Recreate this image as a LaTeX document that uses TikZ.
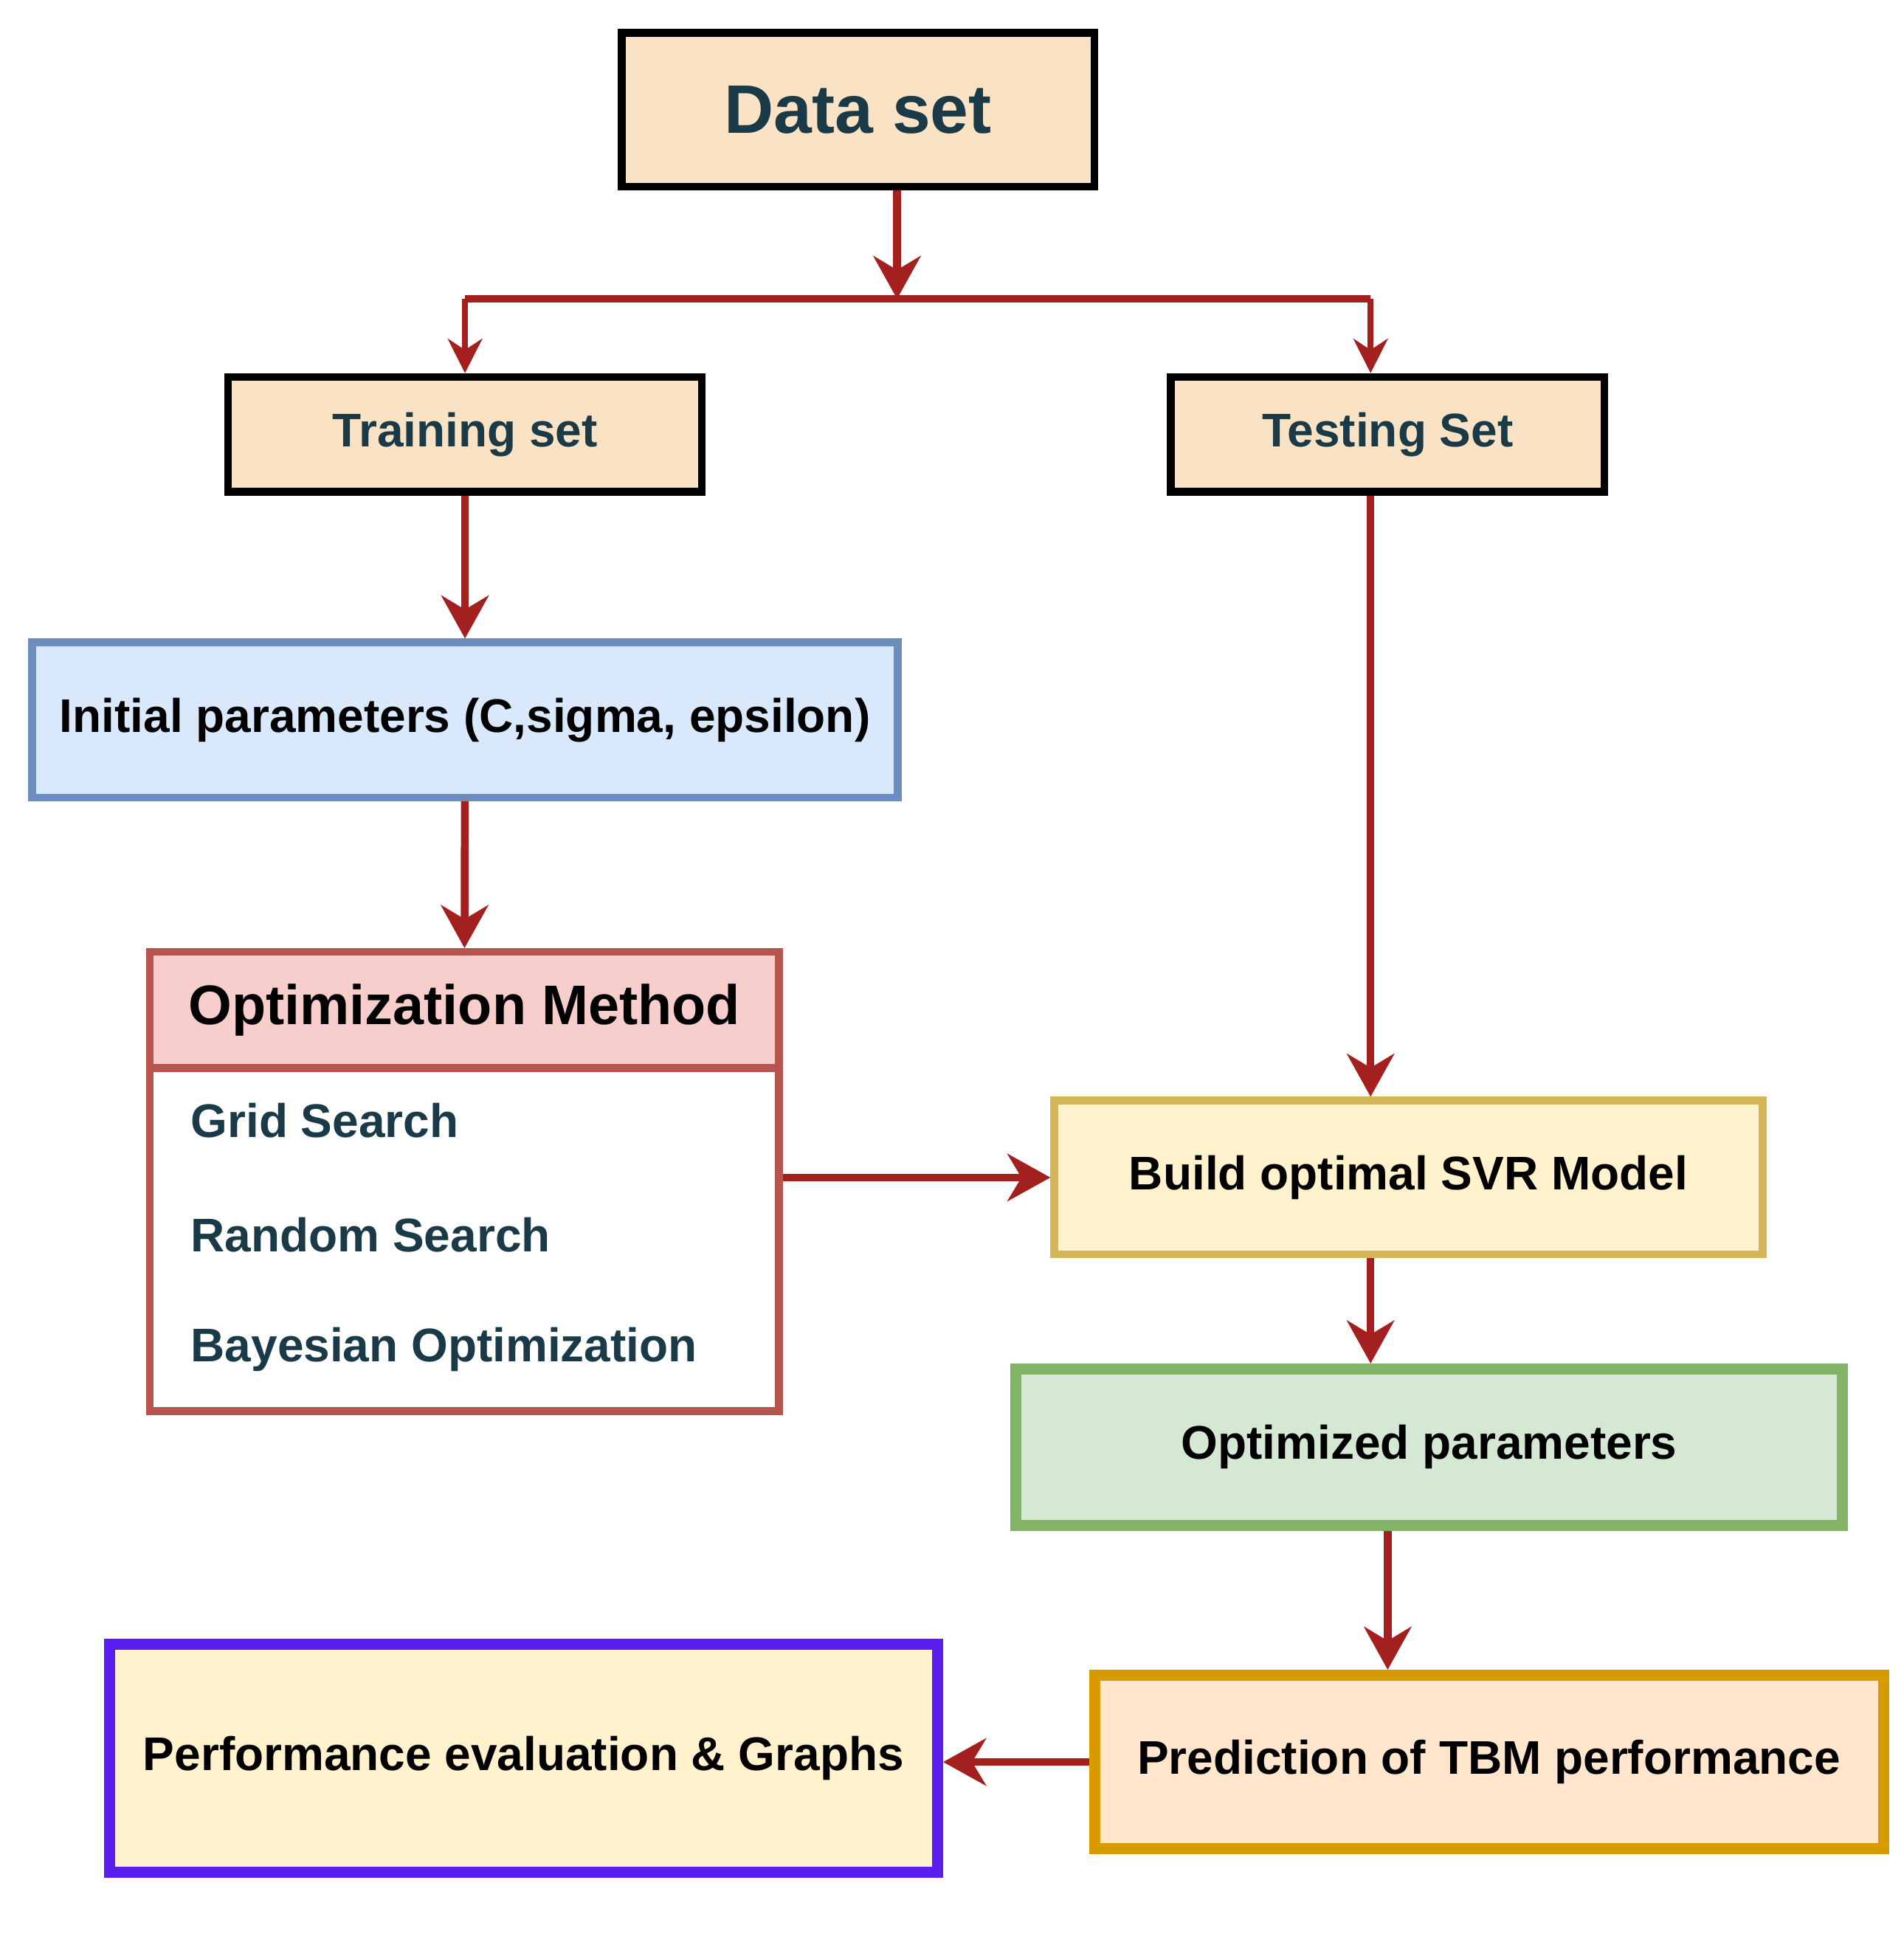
\documentclass[tikz,border=0pt]{standalone}
\usepackage{fontspec}
\setmainfont{Liberation Sans}
\usetikzlibrary{arrows.meta}
\definecolor{peach}{HTML}{FAE3C5}
\definecolor{ink}{HTML}{1B3A48}
\definecolor{arr}{HTML}{A3201F}
\definecolor{blueF}{HTML}{DAE8FC}\definecolor{blueD}{HTML}{6C8EBF}
\definecolor{redF}{HTML}{F8CECC}\definecolor{redD}{HTML}{B85450}
\definecolor{yelF}{HTML}{FFF2CC}\definecolor{yelD}{HTML}{D6B656}
\definecolor{grnF}{HTML}{D5E8D4}\definecolor{grnD}{HTML}{82B366}
\definecolor{orF}{HTML}{FFE6CC}\definecolor{orD}{HTML}{D79B00}
\definecolor{purD}{HTML}{5A1EF0}
\begin{document}
\begin{tikzpicture}[x=0.01cm,y=-0.01cm,
  box/.style={draw,line width=1.8pt,inner sep=0pt,font=\fontsize{11}{13}\selectfont\bfseries},
  arrow/.style={draw=arr,line width=1.8pt,-{Stealth[length=10pt,width=11pt]}},
  thin arrow/.style={draw=arr,line width=1.4pt,-{Stealth[length=8pt,width=8pt]}}]
  \useasboundingbox (0,0) rectangle (1560,1603);
  % top level
  \node[box,fill=peach,text=ink,minimum width=3.87cm,minimum height=1.26cm,font=\fontsize{16}{18}\selectfont\bfseries] (data) at (703,90) {Data set};
  \node[box,fill=peach,text=ink,minimum width=3.88cm,minimum height=0.94cm] (train) at (381,356) {Training set};
  \node[box,fill=peach,text=ink,minimum width=3.55cm,minimum height=0.94cm] (test) at (1137,356) {Testing Set};
  \coordinate (split) at (735,245);
  \coordinate (splitL) at (381,245);
  \coordinate (splitR) at (1123,245);
  % left branch
  \node[box,draw=blueD,fill=blueF,minimum width=7.09cm,minimum height=1.27cm] (init) at (381,590) {Initial parameters (C,sigma, epsilon)};
  \node[box,draw=redD,fill=white,minimum width=5.15cm,minimum height=3.76cm,anchor=north] (list) at (380.5,777) {};
  \node[box,draw=redD,fill=redF,minimum width=5.15cm,minimum height=0.95cm,anchor=north,font=\fontsize{13}{15}\selectfont\bfseries] (opt) at (380.5,777) {Optimization Method};
  \node[text=ink,font=\fontsize{11}{13}\selectfont\bfseries,anchor=west] (grid) at (144,918) {Grid Search};
  \node[text=ink,font=\fontsize{11}{13}\selectfont\bfseries,anchor=west] (rand) at (144,1012) {Random Search};
  \node[text=ink,font=\fontsize{11}{13}\selectfont\bfseries,anchor=west] (bayes) at (144,1106) {Bayesian Optimization};
  % right branch
  \node[box,draw=yelD,fill=yelF,minimum width=5.8cm,minimum height=1.26cm] (build) at (1154,965) {Build optimal SVR Model};
  \node[box,draw=grnD,fill=grnF,line width=2.6pt,minimum width=6.77cm,minimum height=1.28cm] (optpar) at (1171,1186) {Optimized parameters};
  \node[box,draw=orD,fill=orF,line width=2.6pt,minimum width=6.46cm,minimum height=1.42cm] (pred) at (1220,1444) {Prediction of TBM performance};
  \node[box,draw=purD,fill=yelF,line width=2.6pt,minimum width=6.78cm,minimum height=1.87cm] (perf) at (429,1441) {Performance evaluation \& Graphs};
  % connectors
  \draw[arrow] (data.south -| split) -- (split);
  \draw[draw=arr,line width=1.8pt] (splitL) -- (splitR);
  \draw[thin arrow] (splitL) -- (train.north -| splitL);
  \draw[thin arrow] (splitR) -- (test.north -| splitR);
  \draw[arrow] (train) -- (init);
  \draw[arrow] (init) -- (opt);
  \draw[arrow] (test.south -| splitR) -- (build.north -| splitR);
  \draw[arrow] (list.east |- build) -- (build.west);
  \draw[arrow] (build.south -| splitR) -- (optpar.north -| splitR);
  \draw[arrow] (optpar.south -| 1137,0) -- (pred.north -| 1137,0);
  \draw[arrow] (pred.west) -- (perf.east |- pred.west);
\end{tikzpicture}
\end{document}
